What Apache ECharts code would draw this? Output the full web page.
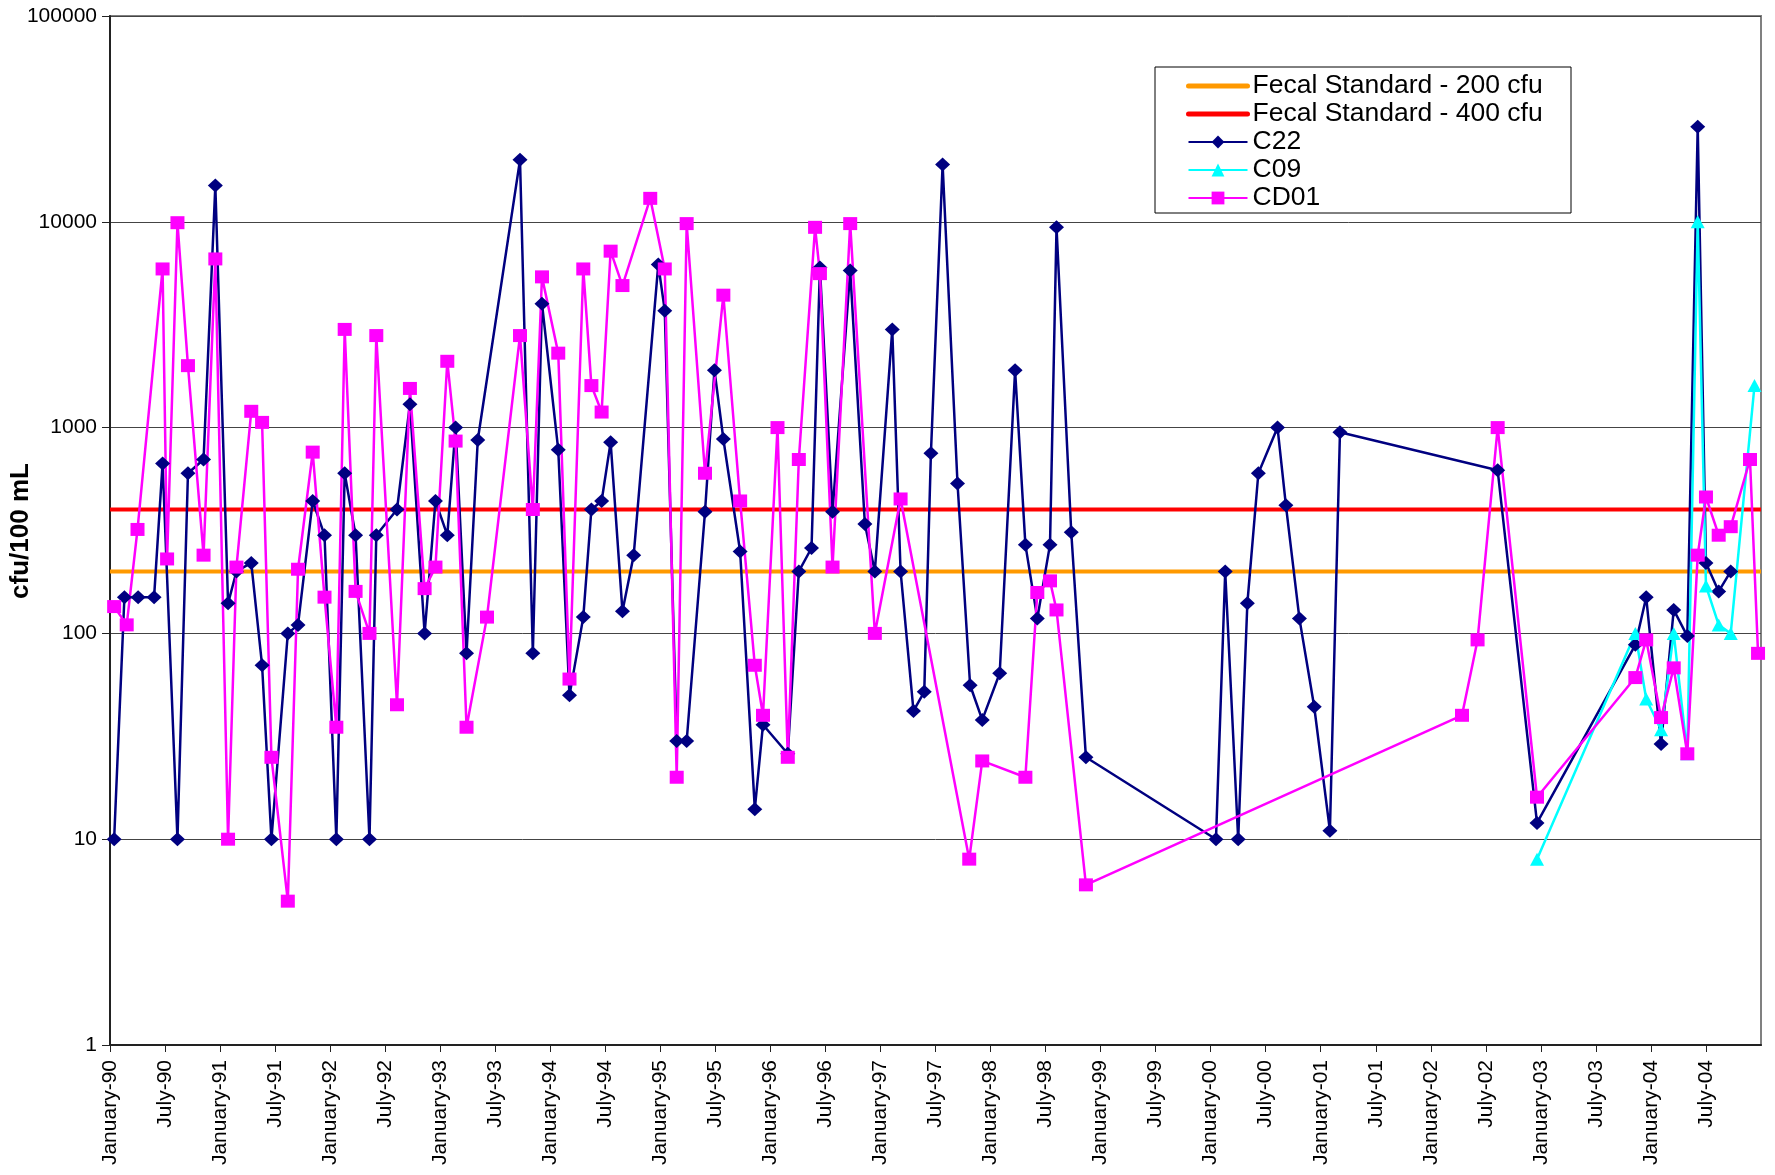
<!DOCTYPE html>
<html>
<head>
<meta charset="utf-8">
<script src="https://cdn.jsdelivr.net/npm/echarts@6/dist/echarts.min.js"></script>
<style>
html,body{margin:0;padding:0;background:#fff;}
#chart{width:1775px;height:1175px;}
</style>
</head>
<body>
<div id="chart"></div>
<script>
// ---- data (sample date, cfu/100 mL) ----
const c22 = [
['1990-01-15',10],['1990-02-17',150],['1990-04-03',150],['1990-05-26',150],['1990-06-23',670],
['1990-08-12',10],['1990-09-16',600],['1990-11-07',700],['1990-12-16',15000],['1991-01-28',140],
['1991-02-23',200],['1991-04-13',220],['1991-05-19',70],['1991-06-19',10],['1991-08-13',100],
['1991-09-16',110],['1991-11-04',440],['1991-12-13',300],['1992-01-22',10],['1992-02-18',600],
['1992-03-25',300],['1992-05-10',10],['1992-06-02',300],['1992-08-10',400],['1992-09-22',1300],
['1992-11-10',100],['1992-12-16',440],['1993-01-25',300],['1993-02-20',1000],['1993-03-28',80],
['1993-05-04',870],['1993-09-22',20000],['1993-11-04',80],['1993-12-04',4000],['1994-01-28',780],
['1994-03-04',50],['1994-04-19',120],['1994-05-16',400],['1994-06-19',440],['1994-07-19',850],
['1994-08-28',128],['1994-10-04',240],['1994-12-25',6200],['1995-01-16',3700],['1995-02-23',30],
['1995-03-28',30],['1995-05-28',390],['1995-06-28',1900],['1995-07-28',880],['1995-09-22',250],
['1995-11-10',14],['1995-12-07',36],['1996-02-27',26],['1996-04-04',200],['1996-05-16',260],
['1996-06-13',6000],['1996-07-25',390],['1996-09-22',5800],['1996-11-10',340],['1996-12-13',200],
['1997-02-09',3000],['1997-03-07',200],['1997-04-19',42],['1997-05-25',52],['1997-06-16',750],
['1997-07-25',19000],['1997-09-13',535],['1997-10-25',56],['1997-12-04',38],['1998-02-01',64],
['1998-03-22',1900],['1998-04-25',270],['1998-06-04',118],['1998-07-16',270],['1998-08-07',9400],
['1998-09-25',310],['1998-11-13',25],['2000-01-19',10],['2000-02-18',200],['2000-04-01',10],
['2000-05-01',140],['2000-06-07',600],['2000-08-10',1000],['2000-09-07',420],['2000-10-22',118],
['2000-12-10',44],['2001-02-01',11],['2001-03-04',950],['2002-08-10',620],['2002-12-19',12],
['2003-11-10',88],['2003-12-16',150],['2004-02-04',29],['2004-03-16',130],['2004-04-30',97],
['2004-06-04',29000],['2004-07-01',220],['2004-08-13',160],['2004-09-22',200]
];
const c09 = [
['2002-12-19',8],['2003-11-10',100],['2003-12-16',48],['2004-02-04',34],['2004-03-16',100],
['2004-04-30',26],['2004-06-04',10000],['2004-07-01',170],['2004-08-13',110],['2004-09-22',100],
['2004-12-10',1600]
];
const cd01 = [
['1990-01-15',135],['1990-02-24',110],['1990-04-01',320],['1990-06-23',5900],['1990-07-08',230],
['1990-08-12',9900],['1990-09-16',2000],['1990-11-07',240],['1990-12-16',6600],['1991-01-28',10],
['1991-02-23',210],['1991-04-13',1200],['1991-05-19',1060],['1991-06-19',25],['1991-08-13',5],
['1991-09-16',205],['1991-11-04',760],['1991-12-13',150],['1992-01-22',35],['1992-02-18',3000],
['1992-03-25',160],['1992-05-10',100],['1992-06-02',2800],['1992-08-10',45],['1992-09-22',1550],
['1992-11-10',165],['1992-12-16',210],['1993-01-25',2100],['1993-02-20',860],['1993-03-28',35],
['1993-06-04',120],['1993-09-22',2800],['1993-11-04',400],['1993-12-04',5400],['1994-01-28',2300],
['1994-03-04',60],['1994-04-19',5900],['1994-05-16',1600],['1994-06-19',1190],['1994-07-19',7200],
['1994-08-28',4900],['1994-11-28',13000],['1995-01-16',5900],['1995-02-23',20],['1995-03-28',9800],
['1995-05-28',600],['1995-07-28',4400],['1995-09-22',440],['1995-11-10',70],['1995-12-07',40],
['1996-01-25',1000],['1996-02-27',25],['1996-04-04',700],['1996-05-28',9400],['1996-06-13',5600],
['1996-07-25',210],['1996-09-22',9800],['1996-12-13',100],['1997-03-07',450],['1997-10-22',8],
['1997-12-04',24],['1998-04-25',20],['1998-06-04',158],['1998-07-16',180],['1998-08-07',130],
['1998-11-13',6],['2002-04-13',40],['2002-06-04',93],['2002-08-10',1000],['2002-12-19',16],
['2003-11-10',61],['2003-12-16',93],['2004-02-04',39],['2004-03-16',68],['2004-04-30',26],
['2004-06-04',240],['2004-07-01',460],['2004-08-13',300],['2004-09-22',330],['2004-11-25',700],
['2004-12-22',80]
];
const standards = [200, 400];
const axisStart = '1990-01-01';
const axisEnd = '2005-01-01';
const monthNames = ['January', 'July'];
const seriesNames = ['Fecal Standard - 200 cfu', 'Fecal Standard - 400 cfu', 'C22', 'C09', 'CD01'];

// months since axis start (fractional)
function toMonths(s) {
  const p = s.split('-').map(Number);
  const b = axisStart.split('-').map(Number);
  const dim = new Date(p[0], p[1], 0).getDate();
  return (p[0] - b[0]) * 12 + (p[1] - b[1]) + (p[2] - 1) / dim;
}
const xMax = toMonths(axisEnd);
const conv = arr => arr.map(d => [toMonths(d[0]), d[1]]);

const FONT = '"Liberation Sans", Arial, sans-serif';
const chart = echarts.init(document.getElementById('chart'), null, {renderer: 'canvas'});

const option = {
  animation: false,
  backgroundColor: '#ffffff',
  grid: {left: 110, right: 14, top: 16, bottom: 130, show: true, borderColor: '#808080', borderWidth: 2, backgroundColor: '#ffffff'},
  xAxis: {
    type: 'value', min: 0, max: xMax, interval: 6,
    axisLine: {show: true, onZero: false, lineStyle: {color: '#222', width: 2}},
    axisTick: {show: true, length: 7, lineStyle: {color: '#222', width: 1}},
    splitLine: {show: false},
    axisLabel: {
      rotate: 90, margin: 15, fontSize: 21, color: '#000', fontFamily: FONT,
      showMaxLabel: false,
      formatter: v => {
        const m = Math.round(v);
        const yr = 1990 + Math.floor(m / 12);
        return monthNames[(m % 12) / 6] + '-' + String(yr % 100).padStart(2, '0');
      }
    }
  },
  yAxis: {
    type: 'log', logBase: 10, min: 1, max: 100000,
    axisLine: {show: true, lineStyle: {color: '#222', width: 2}},
    axisTick: {show: true, length: 8, lineStyle: {color: '#222', width: 1}},
    splitLine: {show: true, lineStyle: {color: '#444', width: 1}},
    minorTick: {show: false},
    axisLabel: {margin: 13, fontSize: 21, color: '#000', fontFamily: FONT, formatter: v => String(Math.round(v))}
  },
  legend: {
    orient: 'vertical', left: 1186, top: 72, z: 10, padding: 0,
    itemWidth: 59, itemHeight: 16, itemGap: 0,
    textStyle: {fontSize: 26.5, lineHeight: 28, color: '#000', fontFamily: FONT},
    data: [
      {name: seriesNames[0], itemStyle: {opacity: 0}, lineStyle: {width: 5, cap: 'round'}},
      {name: seriesNames[1], itemStyle: {opacity: 0}, lineStyle: {width: 5, cap: 'round'}},
      {name: seriesNames[2]},
      {name: seriesNames[3]},
      {name: seriesNames[4]}
    ]
  },
  graphic: [
    {type: 'rect', z: 5, shape: {x: 1155, y: 67, width: 416, height: 146},
     style: {fill: '#fff', stroke: '#000', lineWidth: 1}},
    {type: 'text', z: 5, x: 21, y: 531, rotation: Math.PI / 2,
     style: {text: 'cfu/100 mL', font: 'bold 26px ' + FONT, fill: '#000', textAlign: 'center', textVerticalAlign: 'middle'}}
  ],
  series: [
    {name: seriesNames[0], type: 'line', symbol: 'none', data: [[0, standards[0]], [xMax, standards[0]]],
     lineStyle: {color: '#FF9900', width: 4}, itemStyle: {color: '#FF9900'}},
    {name: seriesNames[1], type: 'line', symbol: 'none', data: [[0, standards[1]], [xMax, standards[1]]],
     lineStyle: {color: '#FF0000', width: 4}, itemStyle: {color: '#FF0000'}},
    {name: seriesNames[2], type: 'line', symbol: 'diamond', symbolSize: [15, 14], data: conv(c22),
     lineStyle: {color: '#000080', width: 2.5}, itemStyle: {color: '#000080'}},
    {name: seriesNames[3], type: 'line', symbol: 'triangle', symbolSize: [14, 13], data: conv(c09),
     lineStyle: {color: '#00FFFF', width: 2.5}, itemStyle: {color: '#00FFFF'}},
    {name: seriesNames[4], type: 'line', symbol: 'rect', symbolSize: [14, 13], data: conv(cd01),
     lineStyle: {color: '#FF00FF', width: 2.5}, itemStyle: {color: '#FF00FF'}}
  ]
};
chart.setOption(option);
</script>
</body>
</html>
